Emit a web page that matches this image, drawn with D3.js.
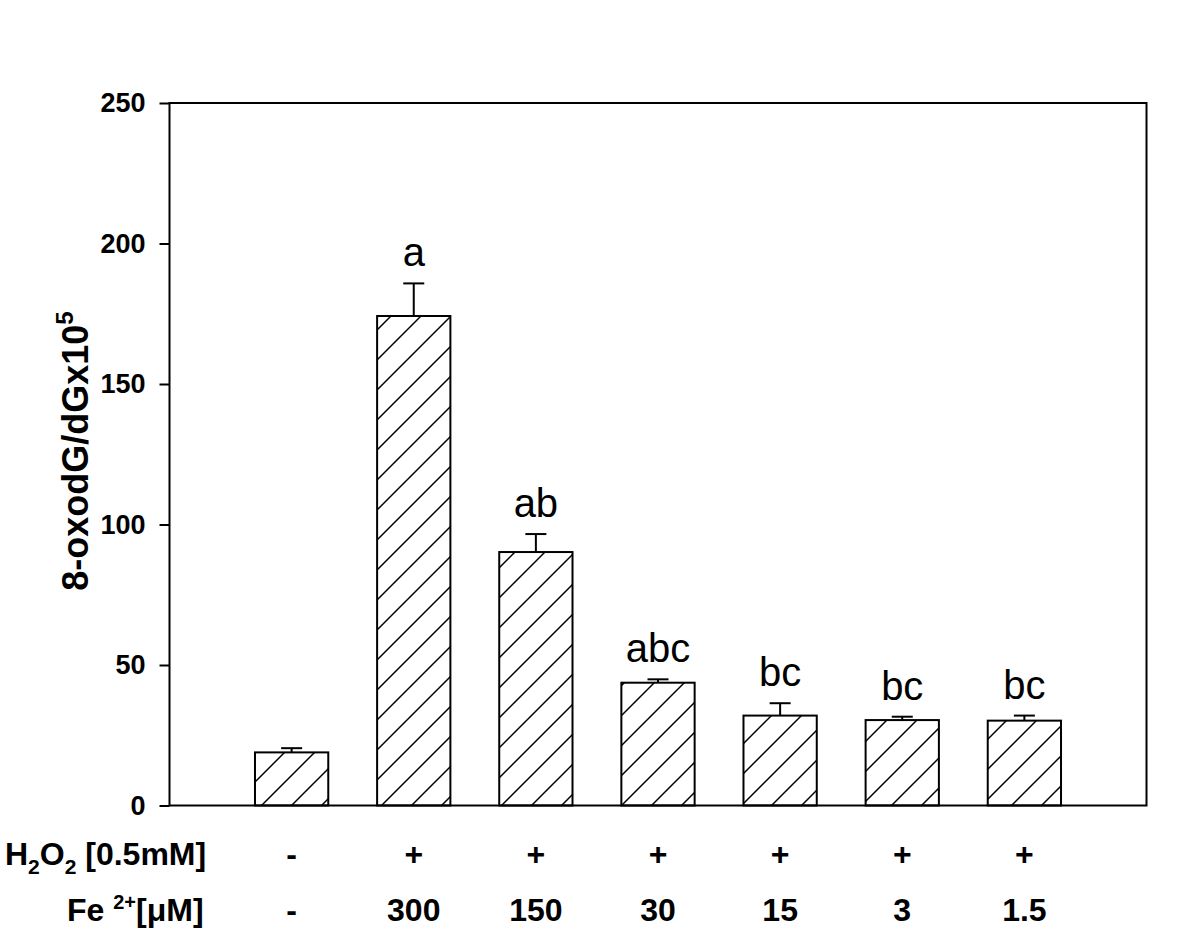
<!DOCTYPE html>
<html>
<head>
	<title>8-oxodG chart</title>
	<script type="text/javascript" src="https://d3js.org/d3.v7.min.js"></script>
	<style>
		body { margin: 0; background: #fff; }
		text { font-family: Arial, "Liberation Sans", sans-serif; fill: #000; }
	</style>
</head>
<body>
	<script type="text/javascript">
		// data
		var positions = [1, 2, 3, 4, 5, 6, 7];
		var h2o2 = ["-", "+", "+", "+", "+", "+", "+"];
		var fe = ["-", "300", "150", "30", "15", "3", "1.5"];
		var means = [18.9, 174.2, 90.2, 43.7, 32.0, 30.4, 30.2];
		var errs = [1.5, 11.6, 6.4, 1.2, 4.4, 1.2, 1.8];
		var letters = ["", "a", "ab", "abc", "bc", "bc", "bc"];
		var yTicks = [0, 50, 100, 150, 200, 250];

		var W = 1200, H = 936;
		var pLeft = 169.5, pRight = 1146.5, pTop = 103, pBottom = 805.5;

		var svg = d3.select("body").append("svg").attr("width", W).attr("height", H);

		var x = d3.scaleLinear().domain([0, 8]).range([pLeft, pRight]);
		var y = d3.scaleLinear().domain([0, 250]).range([pBottom, pTop]);
		var barW = (x(1) - x(0)) * 0.6;

		// hatch pattern
		var defs = svg.append("defs");
		var pat = defs.append("pattern")
			.attr("id", "hatch")
			.attr("patternUnits", "userSpaceOnUse")
			.attr("width", 30).attr("height", 30)
			.attr("x", 17).attr("y", 0);
		pat.append("rect").attr("width", 30).attr("height", 30).attr("fill", "#fff");
		pat.append("path")
			.attr("d", "M0,30 L30,0 M-15,15 L15,-15 M15,45 L45,15")
			.attr("stroke", "#000").attr("stroke-width", 1.5);

		var bars = svg.selectAll(".bar")
			.data(positions)
			.enter().append("g").attr("class", "bar");

		bars.append("rect")
			.attr("x", function (d) { return x(d) - barW / 2; })
			.attr("y", function (d, i) { return y(means[i]); })
			.attr("width", barW)
			.attr("height", function (d, i) { return y(0) - y(means[i]); })
			.attr("fill", "url(#hatch)")
			.attr("stroke", "#000").attr("stroke-width", 2);

		// upper error bars
		bars.append("line")
			.attr("x1", function (d) { return x(d); })
			.attr("x2", function (d) { return x(d); })
			.attr("y1", function (d, i) { return y(means[i]); })
			.attr("y2", function (d, i) { return y(means[i] + errs[i]); })
			.attr("stroke", "#000").attr("stroke-width", 2);
		bars.append("line")
			.attr("x1", function (d) { return x(d) - 10.5; })
			.attr("x2", function (d) { return x(d) + 10.5; })
			.attr("y1", function (d, i) { return y(means[i] + errs[i]); })
			.attr("y2", function (d, i) { return y(means[i] + errs[i]); })
			.attr("stroke", "#000").attr("stroke-width", 2);

		bars.append("text")
			.attr("x", function (d) { return x(d); })
			.attr("y", function (d, i) { return y(means[i] + errs[i]) - 17; })
			.attr("text-anchor", "middle")
			.style("font-size", "40px")
			.text(function (d, i) { return letters[i]; });

		// frame
		svg.append("rect")
			.attr("x", pLeft).attr("y", pTop)
			.attr("width", pRight - pLeft).attr("height", pBottom - pTop)
			.attr("fill", "none").attr("stroke", "#000").attr("stroke-width", 2);

		var yAxis = svg.append("g")
			.attr("transform", "translate(" + pLeft + ",0)")
			.call(d3.axisLeft(y).tickValues(yTicks).tickSize(10).tickSizeOuter(0).tickPadding(14));
		yAxis.select(".domain").remove();
		yAxis.selectAll(".tick line").attr("stroke", "#000").attr("stroke-width", 2);
		yAxis.selectAll(".tick text")
			.style("font-size", "27px").style("font-weight", "bold")
			.style("font-family", "Arial, 'Liberation Sans', sans-serif");

		// y title
		var yt = svg.append("text")
			.attr("transform", "translate(88," + 451 + ") rotate(-90)")
			.attr("text-anchor", "middle")
			.style("font-size", "36px").style("font-weight", "bold");
		yt.append("tspan").text("8-oxodG/dGx10");
		yt.append("tspan").attr("dy", -15).style("font-size", "24px").text("5");

		// treatment rows
		var r1 = svg.append("text").attr("x", 5).attr("y", 865)
			.style("font-size", "32px").style("font-weight", "bold");
		r1.append("tspan").text("H");
		r1.append("tspan").attr("dy", 9).style("font-size", "21px").text("2");
		r1.append("tspan").attr("dy", -9).text("O");
		r1.append("tspan").attr("dy", 9).style("font-size", "21px").text("2");
		r1.append("tspan").attr("dy", -9).text(" [0.5mM]");

		var r2 = svg.append("text").attr("x", 67).attr("y", 921)
			.style("font-size", "32px").style("font-weight", "bold");
		r2.append("tspan").text("Fe ");
		r2.append("tspan").attr("dy", -12).style("font-size", "20px").text("2+");
		r2.append("tspan").attr("dy", 12).text("[\u03bcM]");

		svg.selectAll(".h2o2")
			.data(positions)
			.enter().append("text")
			.attr("x", function (d) { return x(d); })
			.attr("y", 865)
			.attr("text-anchor", "middle")
			.style("font-size", "32px").style("font-weight", "bold")
			.text(function (d, i) { return h2o2[i]; });

		svg.selectAll(".fe")
			.data(positions)
			.enter().append("text")
			.attr("x", function (d) { return x(d); })
			.attr("y", 921)
			.attr("text-anchor", "middle")
			.style("font-size", "32px").style("font-weight", "bold")
			.text(function (d, i) { return fe[i]; });
	</script>
</body>
</html>
